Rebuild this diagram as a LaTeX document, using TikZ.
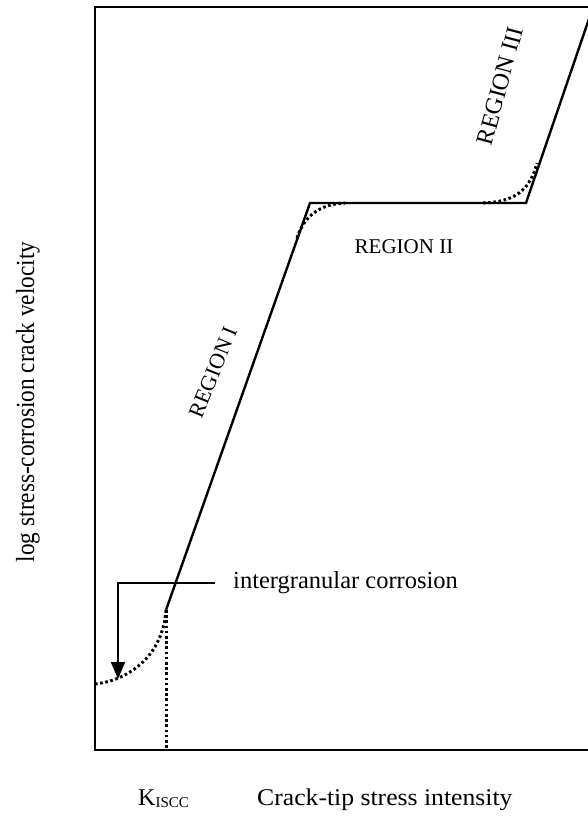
\documentclass[tikz,border=0pt]{standalone}
\usepackage{fontspec}
\usepackage{graphicx}
\setmainfont{Liberation Serif}
\usetikzlibrary{arrows.meta}
\newcommand{\fsz}[1]{\fontsize{#1}{#1}\selectfont}
\tikzset{
  txt/.style={inner sep=0pt, font=\fsz{23}},
  solidline/.style={line width=2.4pt, line join=miter},
  dotline/.style={line width=3pt, dash pattern=on 2.6pt off 2.6pt},
  framepen/.style={line width=2.4pt},
}
\begin{document}
\begin{tikzpicture}[x=1pt,y=-1pt]
\useasboundingbox (0,0) rectangle (588,816);
% frame
\coordinate (fbl) at (95,750);
\coordinate (ftl) at (95,7);
\coordinate (ftr) at (592,7);
\coordinate (fbr) at (592,750);
\draw[framepen] (ftr) -- (ftl) -- (fbl) -- (fbr);
% main curve
\coordinate (p0) at (166,610);
\coordinate (p1) at (310,203);
\coordinate (p2) at (526,203);
\coordinate (p3) at (592,10);
\draw[solidline] (p0) -- (p1) -- (p2) -- (p3);
% dotted parts
\coordinate (d0) at (95,684);
\coordinate (k0) at (166,750);
\draw[dotline] (d0) .. controls (130,680) and (163,655) .. (p0);
\draw[dotline] (p0) -- (k0);
\coordinate (c1s) at (297,238);
\coordinate (c1e) at (345,203);
\draw[dotline] (c1s) .. controls (304,216) and (320,204) .. (c1e);
\coordinate (c2s) at (483,203);
\coordinate (c2e) at (537,163);
\draw[dotline] (c2s) .. controls (515,202) and (530,190) .. (c2e);
% labels
\node[txt, font=\fsz{24.5}, anchor=west] (ic) at (233,583) {intergranular corrosion};
\coordinate (l0) at (215,583);
\coordinate (l1) at (118,583);
\coordinate (l2) at (118,679);
\draw[line width=1.8pt, -{Triangle[length=17pt,width=14pt]}] (l0) -- (l1) -- (l2);
\node[txt, font=\fsz{21}, anchor=base] (r2) at (404,253) {REGION II};
\node[txt, font=\fsz{22}, rotate=68] (r1) at (213,372) {REGION I};
\node[txt, font=\fsz{24}, rotate=75] (r3) at (500,86) {REGION III};
\node[txt, font=\fsz{23.3}] (ylab) at (28,402) {\scalebox{1.12}[1]{\rotatebox{90}{log stress-corrosion crack velocity}}};
\node[txt, font=\fsz{24}, anchor=base west] (xlab) at (257,805) {\scalebox{1.07}[1]{Crack-tip stress intensity}};
\node[txt, font=\fsz{24}, anchor=base west] (kl) at (138,805) {K\raisebox{-2pt}{\fsz{15}ISCC}};
\end{tikzpicture}
\end{document}
